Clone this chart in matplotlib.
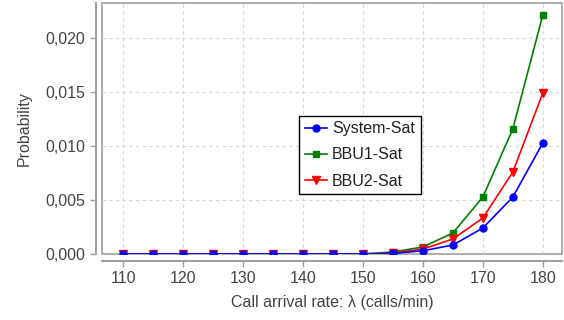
import matplotlib
matplotlib.use("Agg")
import matplotlib.pyplot as plt
from matplotlib.ticker import FuncFormatter, MultipleLocator

# Data
rates = [110, 115, 120, 125, 130, 135, 140, 145, 150, 155, 160, 165, 170, 175, 180]
system_sat = [0, 0, 0, 0, 0, 0, 0, 0, 0, 0.00005, 0.0003, 0.00083, 0.00241, 0.00528, 0.01029]
bbu1_sat = [0, 0, 0, 0, 0, 0, 0, 0, 0, 0.00019, 0.00065, 0.00195, 0.00528, 0.01159, 0.02216]
bbu2_sat = [0, 0, 0, 0, 0, 0, 0, 0, 0, 0.0001, 0.00046, 0.00139, 0.00334, 0.0076, 0.01492]

plt.rcParams["font.family"] = ["Liberation Sans", "DejaVu Sans"]

fig = plt.figure(figsize=(5.64, 3.2), dpi=100)
ax = fig.add_axes([0.1817, 0.2063, 0.8147, 0.7853])

ax.plot(rates, bbu1_sat, color="#008000", marker="s", markersize=4.5,
        linewidth=1.2, label="BBU1-Sat", zorder=3)
ax.plot(rates, bbu2_sat, color="#ff0000", marker="v", markersize=5.5,
        linewidth=1.2, label="BBU2-Sat", zorder=4)
ax.plot(rates, system_sat, color="#0000ff", marker="o", markersize=5,
        linewidth=1.2, label="System-Sat", zorder=5)

ax.set_xlim(106.53, 183.2)
ax.set_ylim(0, 0.0233)
ax.xaxis.set_major_locator(MultipleLocator(10))
ax.yaxis.set_major_locator(MultipleLocator(0.005))
ax.yaxis.set_major_formatter(FuncFormatter(lambda v, p: f"{v:.3f}".replace(".", ",")))

ax.grid(True, color="#d8d8d8", linestyle=(0, (3, 3)), linewidth=0.8)
ax.set_axisbelow(True)

# plot border plus offset axis lines
ax.patch.set_edgecolor("#a0a0a0")
ax.patch.set_linewidth(1.2)
ax.spines["top"].set_visible(False)
ax.spines["right"].set_visible(False)
ax.spines["left"].set_position(("outward", 5))
ax.spines["bottom"].set_position(("outward", 5))
for s in ("left", "bottom"):
    ax.spines[s].set_color("#a0a0a0")
    ax.spines[s].set_linewidth(1.5)

ax.tick_params(axis="both", colors="#a0a0a0", labelcolor="#444444",
               labelsize=11.5, length=4, width=1)

ax.set_xlabel("Call arrival rate: λ (calls/min)", fontsize=11.5, color="#444444",
              labelpad=6)
ax.set_ylabel("Probability", fontsize=11.5, color="#444444", labelpad=10)

handles, labels = ax.get_legend_handles_labels()
order = [2, 0, 1]
leg = ax.legend([handles[i] for i in order], [labels[i] for i in order],
                loc="center", bbox_to_anchor=(0.5604, 0.394), fontsize=11.5,
                frameon=True, fancybox=False, framealpha=1,
                handlelength=1.4, handletextpad=0.3, labelspacing=0.7,
                borderpad=0.35, borderaxespad=0, labelcolor="#222222")
leg.get_frame().set_edgecolor("black")
leg.get_frame().set_linewidth(1.0)

fig.savefig("out.png", dpi=100)
